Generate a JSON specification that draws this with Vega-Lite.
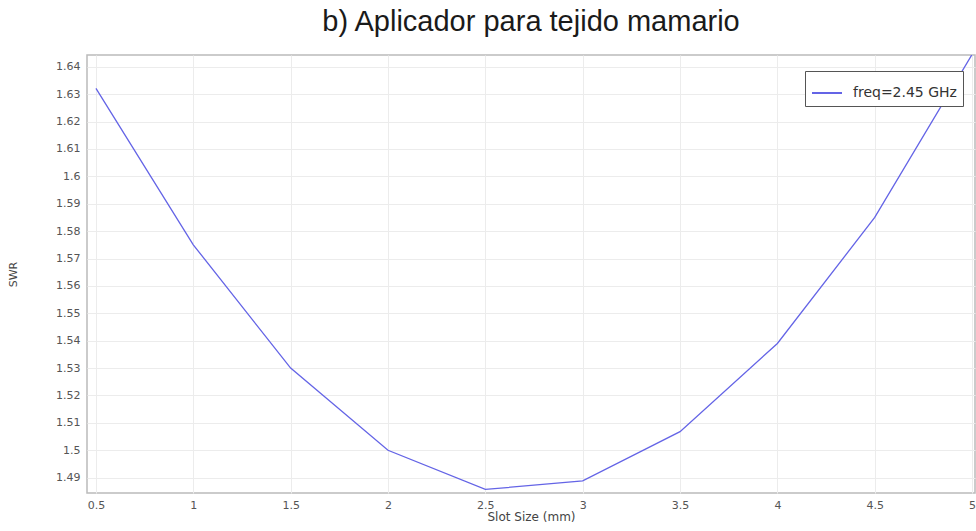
{
  "$schema": "https://vega.github.io/schema/vega-lite/v6.json",
  "autosize": {"type": "none"},
  "width": 888,
  "height": 438,
  "padding": {"left": 87, "top": 55, "right": 1, "bottom": 38},
  "background": "white",
  "title": {"text": "b) Aplicador para tejido mamario", "font": "Liberation Sans", "fontSize": 29, "fontWeight": "normal", "color": "#1a1a1a", "offset": 18, "anchor": "middle"},
  "config": {"view": {"stroke": "#bbbbbb", "strokeWidth": 1.5}},
  "data": {"values": [
    {"x": 0.5, "y": 1.6321, "s": "freq=2.45 GHz"},
    {"x": 1.0, "y": 1.575, "s": "freq=2.45 GHz"},
    {"x": 1.5, "y": 1.530, "s": "freq=2.45 GHz"},
    {"x": 2.0, "y": 1.500, "s": "freq=2.45 GHz"},
    {"x": 2.5, "y": 1.4857, "s": "freq=2.45 GHz"},
    {"x": 3.0, "y": 1.4888, "s": "freq=2.45 GHz"},
    {"x": 3.5, "y": 1.5068, "s": "freq=2.45 GHz"},
    {"x": 4.0, "y": 1.539, "s": "freq=2.45 GHz"},
    {"x": 4.5, "y": 1.585, "s": "freq=2.45 GHz"},
    {"x": 5.0, "y": 1.6445, "s": "freq=2.45 GHz"}
  ]},
  "mark": {"type": "line", "strokeWidth": 1.3, "clip": true},
  "encoding": {
    "x": {"field": "x", "type": "quantitative",
      "scale": {"domain": [0.454, 5.015], "nice": false, "zero": false},
      "axis": {"values": [0.5, 1, 1.5, 2, 2.5, 3, 3.5, 4, 4.5, 5], "format": "~g", "title": "Slot Size (mm)", "titleFont": "DejaVu Sans", "titleFontSize": 12, "titleFontWeight": "normal", "titleColor": "#444444", "titlePadding": 1,
        "labelFont": "DejaVu Sans", "labelFontSize": 11, "labelColor": "#555555", "labelPadding": 6, "labelFlush": false,
        "domain": false, "ticks": false, "grid": true, "gridColor": "#ececec", "gridWidth": 1}},
    "y": {"field": "y", "type": "quantitative",
      "scale": {"domain": [1.4844, 1.6443], "nice": false, "zero": false},
      "axis": {"values": [1.49, 1.5, 1.51, 1.52, 1.53, 1.54, 1.55, 1.56, 1.57, 1.58, 1.59, 1.6, 1.61, 1.62, 1.63, 1.64], "format": "~g", "title": "SWR", "titleFont": "DejaVu Sans", "titleFontSize": 11, "titleFontWeight": "normal", "titleColor": "#444444", "titlePadding": 37,
        "labelFont": "DejaVu Sans", "labelFontSize": 11, "labelColor": "#555555", "labelPadding": 7,
        "domain": false, "ticks": false, "grid": true, "gridColor": "#ececec", "gridWidth": 1}},
    "color": {"field": "s", "type": "nominal",
      "scale": {"range": ["#6464e6"]},
      "legend": {"title": null, "orient": "none", "legendX": 718, "legendY": 16, "symbolType": "stroke", "symbolSize": 900, "symbolStrokeWidth": 2,
        "labelFont": "DejaVu Sans", "labelFontSize": 14, "labelColor": "#333333", "labelOffset": 10,
        "strokeColor": "#555555", "fillColor": "white", "padding": 6, "cornerRadius": 0}}
  }
}
